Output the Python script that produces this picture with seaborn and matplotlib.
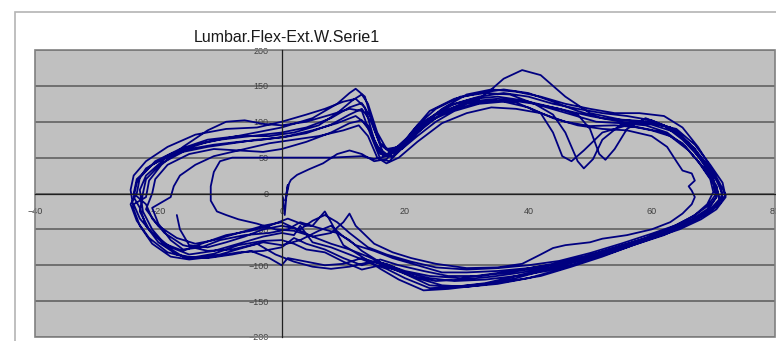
import numpy as np
import pandas as pd
import seaborn as sns
import matplotlib.pyplot as plt
from matplotlib.patches import Rectangle

# Flex-Ext trace (x, y)
cycle_0 = [(0.2, -5), (0.5, -30), (0.8, 0), (1.0, 12), (0.6, -10), (1.2, 14), (1.5, 19), (2.5, 26),
           (4.5, 34), (6.7, 42), (9, 55), (11, 60), (13, 55), (15, 45), (17, 48), (19.5, 70), (23, 100),
           (27, 122), (31, 132), (35, 135), (39, 130), (43, 120), (47, 110), (51, 100), (55, 98), (59, 95),
           (62.5, 85), (65.5, 65), (68, 40), (70, 15), (70.5, -5), (69, -22), (66.5, -36), (63, -50),
           (59, -63), (54, -78), (49, -92), (44, -102), (39, -110), (34, -116), (29, -120), (25, -122),
           (21, -115), (17, -100), (14, -88), (11, -78), (8, -70), (5, -60), (2, -52), (-1, -50),
           (-4, -42), (-7, -36), (-9, -30), (-10.5, -25), (-11.5, -10), (-11.5, 10), (-11, 30), (-10, 45),
           (-8, 50), (-3, 50), (2, 50), (8, 50), (13, 52), (15, 48), (17, 52), (20, 75), (24, 105),
           (28, 125), (32, 135), (36, 140), (40, 135), (44, 125), (48, 118), (52, 112), (56, 108),
           (60, 102), (64, 88), (67, 62), (69, 35), (70.5, 10), (71, -10), (69.5, -25), (67, -38),
           (63, -52), (58, -66), (53, -80), (48, -94), (43, -106), (38, -118), (33, -126), (28, -130),
           (24, -132), (20, -118), (17, -105), (14, -96), (11, -102), (8, -105), (5, -102), (2, -95),
           (-1, -85), (-4, -70), (-8, -78), (-12, -80), (-16, -72), (-19, -55), (-21, -35), (-22, -15)]

cycle_1 = [(-24, 0), (-23.5, 20), (-21, 40), (-17, 58), (-12, 72), (-6, 82), (0, 92), (5, 105), (9, 125),
           (11, 140), (12, 146), (13.5, 135), (15, 90), (16.5, 55), (18, 50), (21, 75), (25, 110), (30, 128),
           (35, 132), (40, 128), (45, 118), (50, 108), (55, 100), (60, 96), (64, 85), (67, 62),
           (69.5, 35), (71, 12), (71.5, -5), (70, -20), (67, -38), (63, -52), (58, -68), (53, -84),
           (48, -97), (43, -108), (38, -115), (33, -120), (28, -122), (24, -118), (20, -110), (17, -98),
           (14, -95), (11, -85), (8, -75), (5, -68), (3, -45), (2, -58), (0, -55), (-3, -60), (-7, -70),
           (-11, -80), (-15, -85), (-18, -75), (-21, -55), (-23, -35), (-24, -15)]

cycle_2 = [(-22, -5), (-21.5, 18), (-19.5, 40), (-16, 65), (-12, 88), (-9, 100), (-6, 102), (-3, 97),
           (0, 95), (4, 100), (8, 110), (11, 118), (13, 115), (14.5, 80), (16, 48), (17.5, 45), (20, 70),
           (24, 100), (28, 120), (32, 132), (34, 145), (36, 160), (39, 172), (42, 165), (46, 135), (50, 112),
           (55, 103), (60, 100), (63, 92), (66, 70), (68.5, 40), (70, 15), (70.5, -5), (69, -25),
           (66, -42), (62, -58), (57, -72), (52, -88), (47, -102), (42, -115), (37, -122), (32, -128),
           (27, -133), (23, -135), (19, -120), (16, -105), (13, -88), (10, -72), (8, -40), (7, -25),
           (5, -45), (4, -45), (1, -35), (-2, -45), (-5, -52), (-9, -58), (-13, -70), (-16, -80),
           (-19, -70), (-21, -50), (-22.5, -25)]

cycle_3 = [(-23, 5), (-22, 25), (-19, 48), (-15, 62), (-11, 68), (-7, 72), (-3, 75), (1, 80), (5, 88),
           (9, 98), (12, 108), (14, 95), (15.5, 65), (17, 55), (19, 62), (22, 88), (26, 112), (30, 125),
           (34, 130), (38, 127), (42, 112), (44, 85), (45.5, 52), (47, 45), (49, 60), (52, 85), (56, 95),
           (60, 88), (63, 80), (66, 60), (68.5, 35), (70.5, 10), (71, -8), (69.5, -22), (67, -35),
           (64, -48), (60, -60), (55, -75), (50, -88), (45, -98), (40, -104), (35, -108), (30, -110),
           (26, -110), (22, -100), (18, -90), (15, -80), (12, -72), (10, -60), (8, -45), (6, -52),
           (3, -65), (0, -72), (-3, -68), (-6, -75), (-10, -85), (-14, -90), (-17, -85), (-20, -68),
           (-22, -45), (-23, -20)]

cycle_4 = [(-24, -5), (-23.5, 15), (-22, 35), (-18, 55), (-14, 68), (-10, 75), (-5, 80), (0, 85), (4, 92),
           (8, 105), (11, 120), (13, 126), (14.5, 105), (16, 70), (17.5, 60), (19.5, 68), (22, 95),
           (25, 118), (29, 135), (33, 140), (37, 138), (41, 125), (44, 110), (46, 85), (48, 45), (49, 35),
           (50.5, 48), (52, 75), (55, 96), (59, 100), (63, 92), (66, 70), (68.5, 45), (70.5, 18),
           (71.5, 0), (70.5, -18), (68, -32), (65, -45), (61, -58), (57, -70), (52, -82), (47, -93),
           (42, -103), (37, -110), (32, -115), (27, -115), (23, -108), (19, -100), (16, -92), (13, -100),
           (10, -90), (7, -78), (4, -70), (2, -62), (0, -75), (-3, -80), (-7, -82), (-11, -88),
           (-15, -92), (-18, -88), (-21, -70), (-23, -45), (-24, -22)]

cycle_5 = [(-24.5, 5), (-24, 25), (-22, 45), (-18.5, 65), (-14, 82), (-9, 90), (-4, 92), (0, 100),
           (4, 110), (7, 118), (10, 128), (12, 132), (13.5, 120), (15, 75), (16.5, 52), (18.5, 58),
           (21, 85), (24, 115), (28, 132), (32, 140), (36, 145), (40, 140), (44, 128), (48, 115),
           (52, 105), (56, 102), (60, 98), (64, 90), (67, 68), (69.5, 40), (71.5, 15), (72, -5),
           (70.5, -22), (68, -36), (64.5, -50), (60, -63), (55, -78), (50, -92), (45, -106), (40, -118),
           (35, -126), (30, -130), (26, -128), (22, -118), (19, -108), (16, -100), (13, -106), (10, -95),
           (7, -82), (4, -78), (2, -70), (0, -65), (-3, -66), (-7, -72), (-11, -84), (-15, -90),
           (-18.5, -82), (-21.5, -62), (-23.5, -38), (-24.5, -15)]

cycle_6 = [(-23.5, 0), (-23, 22), (-20.5, 45), (-16.5, 62), (-12, 75), (-7, 80), (-2, 80), (2, 85),
           (6, 95), (9, 112), (11.5, 130), (13, 138), (14, 125), (15.5, 85), (17, 62), (19, 65), (22, 90),
           (26, 118), (30, 138), (34, 145), (38, 142), (42, 135), (46, 125), (50, 118), (54, 112),
           (58, 112), (62, 108), (65, 92), (67.5, 65), (69.5, 38), (71, 15), (72, -2), (71, -15),
           (69, -28), (66, -40), (62, -54), (58, -65), (53, -78), (48, -92), (43, -105), (38, -115),
           (33, -125), (28, -130), (24, -128), (20, -112), (16, -98), (13, -90), (10, -98), (7, -100),
           (4, -95), (1, -90), (0, -100), (-2, -90), (-5, -80), (-8, -85), (-12, -90), (-16, -88),
           (-19, -72), (-21.5, -50), (-23, -25)]

cycle_7 = [(-22.5, 0), (-22, 20), (-19.5, 42), (-16, 58), (-12, 65), (-8, 70), (-4, 75), (0, 78), (4, 84),
           (8, 96), (11, 110), (13, 118), (14.5, 100), (16, 68), (17.5, 58), (19.5, 62), (22, 80),
           (25, 100), (28, 115), (32, 125), (36, 128), (40, 120), (44, 105), (48, 95), (52, 90), (56, 88),
           (60, 80), (62.5, 65), (64, 45), (65, 32), (66.5, 28), (67, 18), (66, 10), (66.5, 4), (67, -5),
           (66.5, -15), (65, -28), (63, -40), (60, -50), (56, -58), (52, -63), (50, -68), (48, -70),
           (46, -72), (44, -76), (42, -85), (39, -98), (35, -103), (30, -104), (25, -98), (21, -90),
           (18, -82), (15, -70), (12, -45), (11, -28), (10, -40), (8, -55), (5, -60), (2, -48), (0, -40),
           (-3, -45), (-7, -55), (-11, -65), (-14, -70), (-17, -62), (-20, -45), (-22, -22)]

cycle_8 = [(-21, 0), (-20.5, 20), (-18.5, 40), (-15, 55), (-11, 62), (-7, 60), (-3, 58), (0, 62), (4, 72),
           (8, 85), (11, 98), (13, 102), (14.5, 85), (16, 55), (18, 52), (21, 78), (25, 105), (29, 120),
           (33, 128), (37, 130), (41, 125), (45, 118), (48, 110), (50, 90), (51.5, 55), (52.5, 47),
           (54, 62), (56, 90), (59, 105), (62, 95), (65, 75), (68, 48), (70, 20), (70.5, 0), (69, -18),
           (66.5, -33), (63, -48), (59, -62), (54, -76), (49, -88), (44, -98), (39, -106), (34, -112),
           (29, -118), (24, -115), (20, -108), (16, -96), (13, -80), (11, -65), (9, -55), (6, -48),
           (3, -40), (1, -50), (-2, -55), (-6, -58), (-10, -65), (-13, -75), (-16, -78), (-18, -65),
           (-20, -42), (-21, -20)]

cycle_9 = [(-18, -5), (-17.5, 10), (-16.5, 25), (-14, 40), (-11, 52), (-6, 62), (-2, 70), (2, 75), (6, 80),
           (10, 88), (12.5, 95), (14, 80), (15.5, 50), (17, 42), (19, 50), (22, 72), (26, 98), (30, 112),
           (34, 120), (38, 118), (42, 112), (46, 100), (50, 94), (54, 95), (58, 92), (62, 85), (65, 70),
           (67.5, 45), (69.5, 20), (70, 2), (69, -15), (67, -30), (64, -44), (60, -56), (55, -70),
           (50, -83), (45, -94), (40, -100), (35, -104), (30, -106), (25, -103), (21, -95), (17, -85),
           (14, -75), (11, -55), (9, -40), (7, -30), (5, -38), (3, -50), (0, -45), (-3, -50), (-6, -60),
           (-9, -68), (-12, -75), (-15, -72), (-16.5, -50), (-17, -30)]

cycles = [cycle_0, cycle_1, cycle_2, cycle_3, cycle_4, cycle_5, cycle_6, cycle_7, cycle_8, cycle_9]

pts = np.array([p for c in cycles for p in c], dtype=float)
df = pd.DataFrame({'x': pts[:, 0], 'y': pts[:, 1]})

sns.set_style('white')
plt.rcParams['font.family'] = ['Liberation Sans', 'DejaVu Sans']

fig = plt.figure(figsize=(7.76, 3.41), dpi=100)

# outer chart-area frame (cropped on the right and bottom)
fig.patches.append(Rectangle((15 / 776, -0.1), 1.2, 1 - 12 / 341 + 0.1, transform=fig.transFigure,
                             fill=False, edgecolor='#b4b4b4', linewidth=1.2))

ax = fig.add_axes([35 / 776, 4 / 341, 740 / 776, 287 / 341])
ax.set_facecolor('#c0c0c0')

sns.lineplot(data=df, x='x', y='y', sort=False, estimator=None, color='#000080',
             linewidth=1.3, ax=ax)

ax.set_xlim(-40, 80)
ax.set_ylim(-200, 200)
ax.set_xticks(range(-40, 81, 20))
ax.set_yticks(range(-200, 201, 50))
ax.yaxis.grid(True, color='#5a5a5a', linewidth=1.1)
ax.xaxis.grid(False)
ax.set_axisbelow(True)

ax.spines['left'].set_position(('data', 0))
ax.spines['bottom'].set_position(('data', 0))
for s in ['top', 'right']:
    ax.spines[s].set_visible(False)
for s in ['left', 'bottom']:
    ax.spines[s].set_color('#202020')
    ax.spines[s].set_linewidth(0.9)
ax.add_patch(Rectangle((0, 0), 1, 1, transform=ax.transAxes, fill=False,
                       edgecolor='#808080', linewidth=1.2, clip_on=False))

ax.tick_params(axis='y', direction='out', length=3.5, width=0.8, pad=6, labelsize=6.5,
               colors='#202020', labelcolor='#404040')
ax.tick_params(axis='x', direction='out', length=3, width=0.8, pad=7, labelsize=6.5,
               colors='#202020', labelcolor='#404040')
ax.set_xlabel('')
ax.set_ylabel('')

fig.text(287 / 776, 1 - 37 / 341, 'Lumbar.Flex-Ext.W.Serie1', ha='center', va='center',
         fontsize=11.5, color='#1a1a1a')

fig.savefig('out.png', dpi=100)
plt.close(fig)
